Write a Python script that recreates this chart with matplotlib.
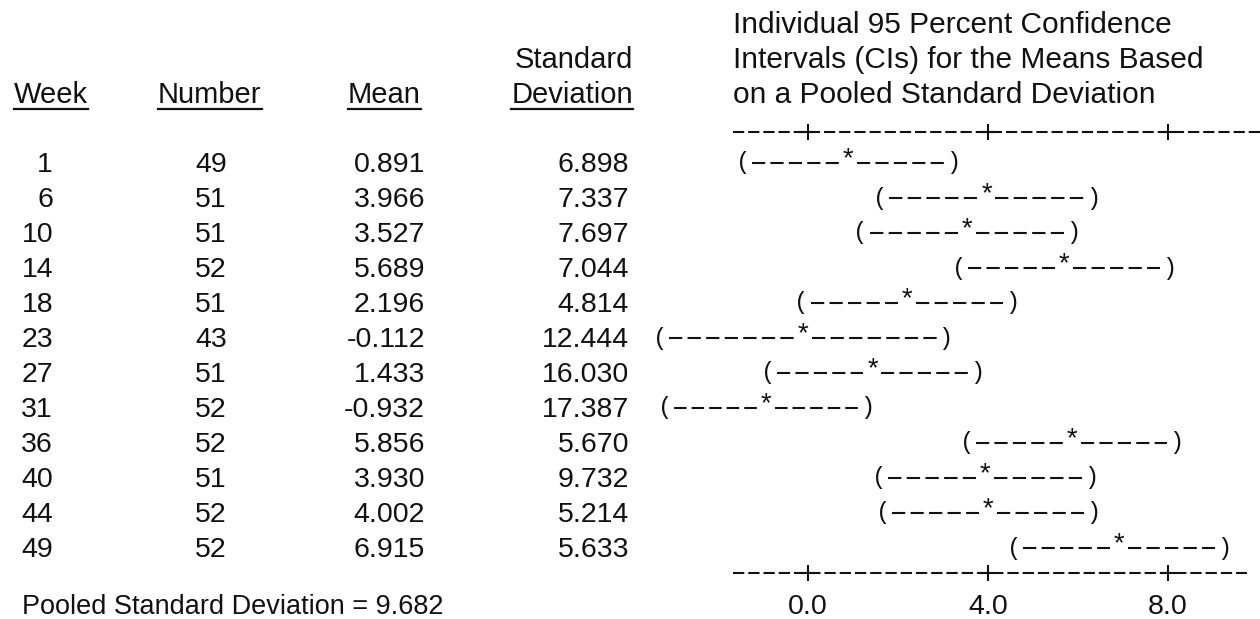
import matplotlib.pyplot as plt
from matplotlib.lines import Line2D
from matplotlib.transforms import blended_transform_factory

plt.rcParams['lines.scale_dashes'] = False

# table data
weeks = [1, 6, 10, 14, 18, 23, 27, 31, 36, 40, 44, 49]
numbers = [49, 51, 51, 52, 51, 43, 51, 52, 52, 51, 52, 52]
means = [0.891, 3.966, 3.527, 5.689, 2.196, -0.112, 1.433, -0.932, 5.856, 3.930, 4.002, 6.915]
std_devs = [6.898, 7.337, 7.697, 7.044, 4.814, 12.444, 16.030, 17.387, 5.670, 9.732, 5.214, 5.633]
# half widths of the intervals
ci_half = [2.33, 2.36, 2.36, 2.34, 2.34, 3.17, 2.33, 2.24, 2.33, 2.36, 2.34, 2.34]
pooled_sd = 9.682
axis_ticks = [0.0, 4.0, 8.0]
title_lines = ["Individual 95 Percent Confidence",
               "Intervals (CIs) for the Means Based",
               "on a Pooled Standard Deviation"]

W, H = 1260, 619
fig = plt.figure(figsize=(12.6, 6.19), dpi=100)
ax = fig.add_axes([0, 0, 1, 1])
ax.axis('off')

# x: data units (0 -> 808 px, 45 px per unit); y: row index
x0_px, x_scale = 808, 45.0
row0, step = 172, 35.0
ax.set_xlim(-x0_px / x_scale, (W - x0_px) / x_scale)
ax.set_ylim((H - row0) / step, -row0 / step)


def ypx(px):
    return (px - row0) / step


tr = blended_transform_factory(ax.transAxes, ax.transData)
ink = '#111111'
sans = dict(family='Liberation Sans', color=ink, va='baseline')
mono = dict(family='Liberation Mono', color=ink, va='center')


def dashed(x_a, x_b, y, ratio=0.4, pitch_px=17.0, lw=1.5):
    # dashed run that starts and ends on a full dash
    length = (x_b - x_a) * x_scale * 0.72  # points
    n = max(1, round(length / (pitch_px * 0.72)))
    d = length / ((1 + ratio) * n - ratio)
    ax.plot([x_a, x_b], [y, y], ls=(0, (d, d * ratio)), lw=lw, color=ink,
            solid_capstyle='butt', dash_capstyle='butt')


# headers
hdr = []
hdr.append(ax.text(14 / W, ypx(103), 'Week', transform=tr, ha='left', fontsize=21, **sans))
hdr.append(ax.text(158 / W, ypx(103), 'Number', transform=tr, ha='left', fontsize=21, **sans))
hdr.append(ax.text(348 / W, ypx(103), 'Mean', transform=tr, ha='left', fontsize=21, **sans))
hdr.append(ax.text(633 / W, ypx(103), 'Deviation', transform=tr, ha='right', fontsize=21, **sans))
ax.text(633 / W, ypx(68), 'Standard', transform=tr, ha='right', fontsize=21, **sans)

for k, line in enumerate(title_lines):
    ax.text(733 / W, ypx(33 + 35 * k), line, transform=tr, ha='left', fontsize=21.5, **sans)

# table rows
for i in range(len(weeks)):
    ax.text(53 / W, i, str(weeks[i]), transform=tr, ha='right', fontsize=20.5, **sans)
    ax.text(227 / W, i, str(numbers[i]), transform=tr, ha='right', fontsize=20.5, **sans)
    ax.text(425 / W, i, f"{means[i]:.3f}", transform=tr, ha='right', fontsize=20.5, **sans)
    ax.text(629 / W, i, f"{std_devs[i]:.3f}", transform=tr, ha='right', fontsize=20.5, **sans)

# confidence intervals
for i, (m, h) in enumerate(zip(means, ci_half)):
    yc = i - 9 / step
    lo, hi = m - h, m + h
    ax.text(lo, yc, '(', ha='center', fontsize=17, **mono)
    ax.text(hi, yc, ')', ha='center', fontsize=17, **mono)
    ax.text(m, yc - 0.07, '*', ha='center', fontsize=20, **mono)
    dashed(lo + 0.2, m - 0.2, yc)
    dashed(m + 0.2, hi - 0.2, yc)

# character-style axis lines
for ya, right in [(ypx(132), 10.04), (ypx(573), 9.76)]:
    dashed(-1.67, right, ya, ratio=0.35, pitch_px=15.0)
    ax.plot(axis_ticks, [ya] * len(axis_ticks), ls='none', marker='+',
            ms=11, mew=1.5, color=ink)

for t in axis_ticks:
    ax.text(t, ypx(614), f"{t:.1f}", ha='center', fontsize=20.5, **sans)

ax.text(22 / W, ypx(614), f"Pooled Standard Deviation = {pooled_sd:.3f}",
        transform=tr, ha='left', fontsize=19.5, **sans)

# underline the column headers
fig.canvas.draw()
r = fig.canvas.get_renderer()
for t in hdr:
    bb = t.get_window_extent(r)
    yl = 1 - 109 / H
    fig.add_artist(Line2D([bb.x0 / W, bb.x1 / W], [yl, yl],
                          transform=fig.transFigure, lw=1.6, color=ink))

fig.savefig('out.png', dpi=100)
